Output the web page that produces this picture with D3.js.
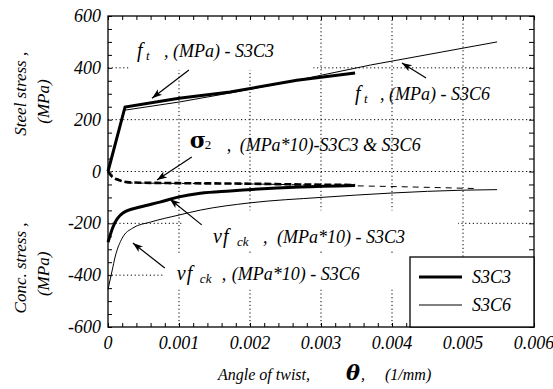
<!DOCTYPE html>
<html>
<head>
<meta charset="utf-8">
<script src="https://cdn.jsdelivr.net/npm/d3@7/dist/d3.min.js"></script>
</head>
<body style="margin:0">
<svg width="553" height="389"></svg>
<script>
// angle of twist (1/mm) against stress (MPa)
let thetaTicks = [0, 0.001, 0.002, 0.003, 0.004, 0.005, 0.006];
let thetaTickLabels = ['0', '0.001', '0.002', '0.003', '0.004', '0.005', '0.006'];
let stressTicks = [-600, -400, -200, 0, 200, 400, 600];
let stressTickLabels = ['-600', '-400', '-200', '0', '200', '400', '600'];

// steel stress f_t
let steelS3C3 = [[0, 0], [0.00024, 249], [0.001, 283], [0.00172, 307], [0.00266, 352], [0.00348, 380]];
let steelS3C6 = [[0, 0], [0.00022, 236], [0.001, 268], [0.00172, 303], [0.00266, 352], [0.0037, 411], [0.004, 426], [0.00548, 500]];

// sigma_2 (MPa*10)
let sigmaS3C3 = [[0, 0], [0.00005, -18], [0.00015, -33], [0.0003, -42], [0.001, -45], [0.002, -47], [0.0027, -50], [0.00348, -52]];
let sigmaS3C6 = [[0, 0], [0.0003, -44], [0.002, -48], [0.003, -53], [0.004, -58], [0.0052, -66]];

// concrete stress v*f_ck (MPa*10)
let concS3C3 = [[0, -273], [0.00007, -214], [0.00021, -160], [0.00045, -137], [0.00073, -118], [0.001, -98], [0.0013, -84], [0.00172, -75], [0.0027, -60], [0.00348, -54]];
let concS3C6 = [[0, -455], [0.00006, -380], [0.0001, -330], [0.0002, -257], [0.00035, -218], [0.0006, -195], [0.001, -168], [0.0013, -149], [0.002, -121], [0.003, -100], [0.004, -83], [0.005, -72], [0.00548, -70]];

let seriesNames = ['S3C3', 'S3C6'];

let serif = 'Times New Roman';
let greekFont = 'DejaVu Serif';

let svg = d3.select('svg');
let margin = {top: 16, right: 19, bottom: 62, left: 108};
let width = 553 - margin.left - margin.right;
let height = 389 - margin.top - margin.bottom;

let x = d3.scaleLinear().domain([0, 0.006]).range([margin.left, margin.left + width]);
let y = d3.scaleLinear().domain([-600, 600]).range([margin.top + height, margin.top]);

// dotted grid
let grid = svg.append('g')
  .attr('stroke', '#000')
  .attr('stroke-width', 1)
  .attr('stroke-dasharray', '1.2,2.6');

grid.selectAll('line.gx')
  .data(thetaTicks.slice(1, -1))
  .enter().append('line')
  .attr('x1', x).attr('x2', x)
  .attr('y1', y(600)).attr('y2', y(-600));

grid.selectAll('line.gy')
  .data(stressTicks.slice(1, -1))
  .enter().append('line')
  .attr('y1', y).attr('y2', y)
  .attr('x1', x(0)).attr('x2', x(0.006));

// white boxes behind the labels hide parts of the grid, as in the original
let masks = [
  [0.00031, 600, 0.00289, 392],
  [0.00104, -150, 0.00493, -300],
  [0.00080, -315, 0.00426, -455]
];
svg.append('g')
  .selectAll('rect')
  .data(masks)
  .enter().append('rect')
  .attr('x', function(d) { return x(d[0]); })
  .attr('y', function(d) { return y(d[1]); })
  .attr('width', function(d) { return x(d[2]) - x(d[0]); })
  .attr('height', function(d) { return y(d[3]) - y(d[1]); })
  .attr('fill', '#fff');

// minor ticks, inward on all four sides
let xMinor = d3.range(0, 31).map(function(i) { return i * 0.0002; });
let yMinor = d3.range(0, 25).map(function(i) { return -600 + i * 50; });

svg.append('g')
  .attr('transform', `translate(0,${y(-600)})`)
  .call(d3.axisBottom(x).tickValues(xMinor).tickSize(-4).tickFormat(''))
  .call(function(g) { g.select('.domain').remove(); });
svg.append('g')
  .attr('transform', `translate(0,${y(600)})`)
  .call(d3.axisTop(x).tickValues(xMinor).tickSize(-4).tickFormat(''))
  .call(function(g) { g.select('.domain').remove(); });
svg.append('g')
  .attr('transform', `translate(${x(0)},0)`)
  .call(d3.axisLeft(y).tickValues(yMinor).tickSize(-4).tickFormat(''))
  .call(function(g) { g.select('.domain').remove(); });
svg.append('g')
  .attr('transform', `translate(${x(0.006)},0)`)
  .call(d3.axisRight(y).tickValues(yMinor).tickSize(-5).tickFormat(''))
  .call(function(g) { g.select('.domain').remove(); });

// frame
svg.append('rect')
  .attr('x', x(0)).attr('y', y(600))
  .attr('width', x(0.006) - x(0)).attr('height', y(-600) - y(600))
  .attr('fill', 'none').attr('stroke', '#000').attr('stroke-width', 1.3);

// tick labels
svg.append('g')
  .attr('text-anchor', 'middle')
  .selectAll('text')
  .data(thetaTicks)
  .enter().append('text')
  .attr('font-family', serif).attr('font-style', 'italic').attr('font-size', 18)
  .attr('x', x)
  .attr('y', 349)
  .text(function(d, i) { return thetaTickLabels[i]; });

svg.append('g')
  .attr('text-anchor', 'end')
  .selectAll('text')
  .data(stressTicks)
  .enter().append('text')
  .attr('font-family', serif).attr('font-style', 'italic').attr('font-size', 18)
  .attr('x', x(0) - 7)
  .attr('y', y)
  .attr('dy', '0.34em')
  .text(function(d, i) { return stressTickLabels[i]; });

// curves
let line = d3.line().x(function(d) { return x(d[0]); }).y(function(d) { return y(d[1]); });
let smooth = d3.line().x(function(d) { return x(d[0]); }).y(function(d) { return y(d[1]); }).curve(d3.curveMonotoneX);

let curves = [
  {data: sigmaS3C6, gen: smooth, w: 1, dash: '6,5'},
  {data: sigmaS3C3, gen: smooth, w: 2.6, dash: '7,3'},
  {data: steelS3C6, gen: line, w: 1, dash: null},
  {data: steelS3C3, gen: line, w: 3, dash: null},
  {data: concS3C6, gen: smooth, w: 1, dash: null},
  {data: concS3C3, gen: smooth, w: 3, dash: null}
];

svg.append('g')
  .selectAll('path')
  .data(curves)
  .enter().append('path')
  .attr('d', function(d) { return d.gen(d.data); })
  .attr('fill', 'none')
  .attr('stroke', '#000')
  .attr('stroke-width', function(d) { return d.w; })
  .attr('stroke-dasharray', function(d) { return d.dash; });

// arrows from labels to curves
svg.append('defs').append('marker')
  .attr('id', 'head')
  .attr('viewBox', '0 0 10 10')
  .attr('refX', 10).attr('refY', 5)
  .attr('markerWidth', 10).attr('markerHeight', 10)
  .attr('markerUnits', 'userSpaceOnUse')
  .attr('orient', 'auto')
  .append('path')
  .attr('d', 'M0,1.5L10,5L0,8.5L2.5,5Z')
  .attr('fill', '#000');

let arrows = [
  [0.00114, 392, 0.00062, 283],
  [0.00118, 56, 0.00069, -33],
  [0.00448, 361, 0.00414, 419],
  [0.00132, -206, 0.00087, -106],
  [0.00080, -372, 0.00035, -276]
];
svg.append('g')
  .selectAll('line')
  .data(arrows)
  .enter().append('line')
  .attr('x1', function(d) { return x(d[0]); })
  .attr('y1', function(d) { return y(d[1]); })
  .attr('x2', function(d) { return x(d[2]); })
  .attr('y2', function(d) { return y(d[3]); })
  .attr('stroke', '#000')
  .attr('stroke-width', 1.2)
  .attr('marker-end', 'url(#head)');

// each label part is drawn as its own text: [text, x offset, kind]
function label(t, v, parts) {
  parts.forEach(function(p) {
    let s = svg.append('text')
      .attr('x', x(t) + p[1])
      .attr('y', y(v))
      .attr('font-family', serif)
      .attr('font-style', 'italic')
      .attr('font-size', 18)
      .text(p[0]);
    if (p[2] === 'sub') s.attr('font-size', 13).attr('dy', 3);
    if (p[2] === 'sym') s.attr('font-size', 20);
    if (p[2] === 'greek') s.attr('font-family', greekFont).attr('font-size', 22).attr('font-weight', 'bold').attr('font-style', 'normal').attr('dy', -3);
    if (p[2] === 'greeksub') s.attr('font-size', 13).attr('font-style', 'normal').attr('dy', -2);
  });
}

label(0.00041, 443, [['f', 0, 'sym'], ['t', 9, 'sub'], [',', 27, ''], ['(MPa) - S3C3', 36, '']]);
label(0.00115, 80, [['σ', 0, 'greek'], ['2', 15, 'greeksub'], [',', 37, ''], ['(MPa*10)-S3C3 & S3C6', 50, '']]);
label(0.00348, 276, [['f', 0, 'sym'], ['t', 9, 'sub'], [',', 25, ''], ['(MPa) - S3C6', 34, '']]);
label(0.00148, -276, [['v', 0, 'sym'], ['f', 10, 'sym'], ['ck', 24, 'sub'], [',', 50, ''], ['(MPa*10) - S3C3', 64, '']]);
label(0.00097, -419, [['v', 0, 'sym'], ['f', 10, 'sym'], ['ck', 23, 'sub'], [',', 45, ''], ['(MPa*10) - S3C6', 55, '']]);

// legend
let legend = svg.append('g')
  .attr('transform', `translate(${x(0.006) - 124},${y(-600) - 70})`);
legend.append('rect')
  .attr('width', 124).attr('height', 70)
  .attr('fill', '#fff').attr('stroke', '#000').attr('stroke-width', 1.3);
let item = legend.selectAll('g')
  .data(seriesNames)
  .enter().append('g')
  .attr('transform', function(d, i) { return `translate(0,${20 + i * 28})`; });
item.append('line')
  .attr('x1', 9).attr('x2', 52)
  .attr('stroke', '#000')
  .attr('stroke-width', function(d, i) { return i === 0 ? 3 : 1; });
item.append('text')
  .attr('x', 62).attr('dy', '0.33em')
  .attr('font-family', serif).attr('font-style', 'italic').attr('font-size', 18)
  .text(function(d) { return d; });

// axis titles
let xTitle = [
  ['Angle of twist,', 218, 16, 'normal', serif],
  ['θ', 346, 21, 'bold', greekFont],
  [',', 361, 16, 'normal', serif],
  ['(1/mm)', 385, 16, 'normal', serif]
];
svg.append('g')
  .selectAll('text')
  .data(xTitle)
  .enter().append('text')
  .attr('x', function(d) { return d[1]; })
  .attr('y', 380)
  .attr('font-style', 'italic')
  .attr('font-family', function(d) { return d[4]; })
  .attr('font-size', function(d) { return d[2]; })
  .attr('font-weight', function(d) { return d[3]; })
  .text(function(d) { return d[0]; });

let yTitles = [
  ['Steel stress ,', 20, y(300)],
  ['(MPa)', 43, y(270)],
  ['Conc. stress ,', 20, y(-372)],
  ['(MPa)', 43, y(-395)]
];
svg.append('g')
  .attr('text-anchor', 'middle')
  .selectAll('text')
  .data(yTitles)
  .enter().append('text')
  .attr('font-family', serif).attr('font-style', 'italic').attr('font-size', 17)
  .attr('transform', function(d) { return `translate(${d[1] + 6},${d[2]})rotate(-90)`; })
  .text(function(d) { return d[0]; });
</script>
</body>
</html>
